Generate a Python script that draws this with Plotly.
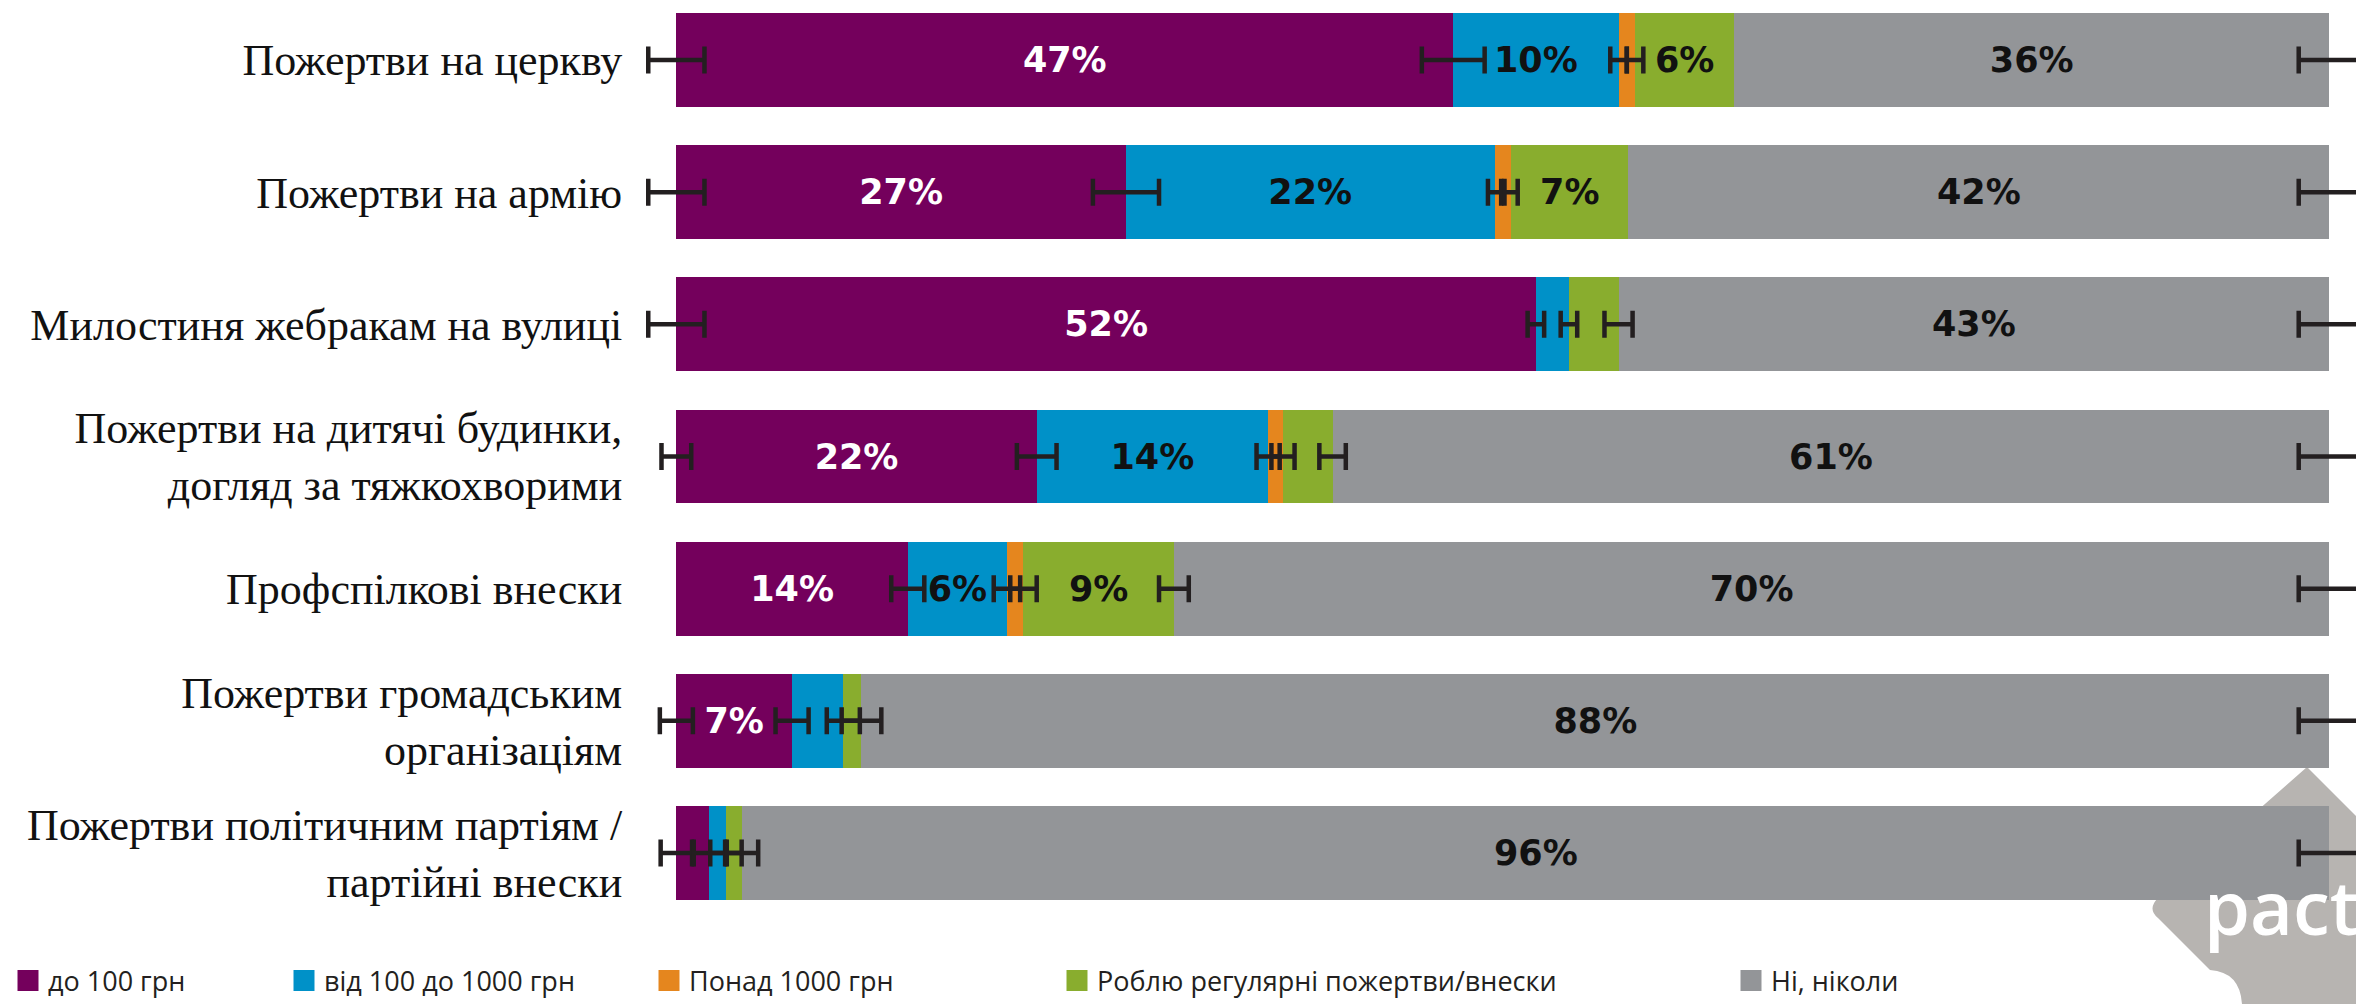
import plotly.graph_objects as go

# ---------------- data ----------------
categories = [
    "Пожертви на церкву",
    "Пожертви на армію",
    "Милостиня жебракам на вулиці",
    "Пожертви на дитячі будинки,<br>догляд за тяжкохворими",
    "Профспілкові внески",
    "Пожертви громадським<br>організаціям",
    "Пожертви політичним партіям /<br>партійні внески",
]

series_names = [
    "до 100 грн",
    "від 100 до 1000 грн",
    "Понад 1000 грн",
    "Роблю регулярні пожертви/внески",
    "Ні, ніколи",
]

up_to_100 = [47.0, 27.2, 52.0, 21.8, 14.0, 7.0, 2.0]
from_100_to_1000 = [10.0, 22.3, 2.0, 14.0, 6.0, 3.1, 1.0]
over_1000 = [1.0, 1.0, 0.0, 0.9, 1.0, 0.0, 0.0]
regular = [6.0, 7.1, 3.0, 3.0, 9.1, 1.1, 1.0]
never = [36.0, 42.4, 43.0, 60.3, 69.9, 88.8, 96.0]

labels_up_to_100 = ["47%", "27%", "52%", "22%", "14%", "7%", ""]
labels_100_1000 = ["10%", "22%", "", "14%", "6%", "", ""]
labels_over_1000 = ["", "", "", "", "", "", ""]
labels_regular = ["6%", "7%", "", "", "9%", "", ""]
labels_never = ["36%", "42%", "43%", "61%", "70%", "88%", "96%"]

# margins of error (± p.p.) at the bar start and at the end of each segment (None = not shown)
err_start = [1.7, 1.7, 1.7, 0.9, None, 1.0, 0.95]
err_up_to_100 = [1.9, 2.0, 0.5, 1.2, 1.0, 1.0, 0.95]
err_100_1000 = [0.5, 0.4, 0.5, 0.7, 0.8, 1.0, 0.95]
err_over_1000 = [0.5, 0.4, None, 0.7, 0.8, None, None]
err_regular = [None, None, 0.85, 0.8, 0.9, 1.2, 0.95]
err_never = [1.85, 1.85, 1.85, 1.85, 1.85, 1.85, 1.85]

# ---------------- styles ----------------
colors = ["#74005c", "#0091c8", "#e5861e", "#89ad2e", "#939598"]
text_colors = ["#ffffff", "#111111", "#111111", "#111111", "#111111"]
OFF = 8  # page body margin
W, H = 2364 - OFF, 1004 - OFF
ML, MR, MT, MB = 632, 0, 0, 85
PW, PH = W - ML - MR, H - MT - MB

stack = [up_to_100, from_100_to_1000, over_1000, regular, never]
labels = [labels_up_to_100, labels_100_1000, labels_over_1000, labels_regular, labels_never]
errs = [err_up_to_100, err_100_1000, err_over_1000, err_regular, err_never]

fig = go.Figure()

for vals, txt, name, col, tcol in zip(stack, labels, series_names, colors, text_colors):
    fig.add_trace(go.Bar(
        y=categories, x=vals, orientation="h", name=name,
        marker=dict(color=col, line=dict(width=0)),
        width=0.71,
        text=txt, textposition="inside", insidetextanchor="middle",
        textangle=0, constraintext="none",
        textfont=dict(family="DejaVu Sans", size=35, color=tcol, weight="bold"),
        showlegend=False, hoverinfo="skip",
    ))

# error bars at segment boundaries
ex, ey, ee = [], [], []
for i, cat in enumerate(categories):
    if err_start[i] is not None:
        ex.append(0.0); ey.append(cat); ee.append(err_start[i])
    cum = 0.0
    for vals, er in zip(stack, errs):
        cum += vals[i]
        if er[i] is not None:
            ex.append(cum); ey.append(cat); ee.append(er[i])

fig.add_trace(go.Scatter(
    x=ex, y=ey, mode="markers",
    marker=dict(size=2, color="rgba(0,0,0,0)"),
    error_x=dict(type="data", array=ee, symmetric=True, color="#231f20",
                 thickness=4.5, width=13.5),
    showlegend=False, hoverinfo="skip", cliponaxis=False,
))

# legend entries, each in its own legend so they can be placed like the original
legend_text_x = [41, 329, 694, 1102, 1776]
for k, (name, col) in enumerate(zip(series_names, colors)):
    lg = "legend" if k == 0 else f"legend{k+1}"
    fig.add_trace(go.Scatter(
        x=[None], y=[None], mode="markers", name=name, legend=lg,
        marker=dict(symbol="square", size=16, color=col, line=dict(width=5, color=col)),
        showlegend=True,
    ))

legend_common = dict(
    orientation="h", xref="container", yref="container",
    yanchor="middle", y=1 - (981 - OFF) / H, xanchor="left",
    bgcolor="rgba(0,0,0,0)", borderwidth=0,
    font=dict(family="Open Sans", size=27, color="#231f20"),
)
legend_layout = {}
for k, tx in enumerate(legend_text_x):
    key = "legend" if k == 0 else f"legend{k+1}"
    legend_layout[key] = dict(legend_common, x=(tx - OFF - 45) / W)


def px(xp):
    return (xp - OFF - ML) / PW


def py(yp):
    return (MT + PH - (yp - OFF)) / PH


logo_path = (
    f"M {px(2307)},{py(767)} L {px(2364)},{py(824)} L {px(2364)},{py(1004)} "
    f"L {px(2242)},{py(1004)} Q {px(2240)},{py(972)} {px(2210)},{py(970)} "
    f"L {px(2158)},{py(918)} Q {px(2147)},{py(909)} {px(2158)},{py(898)} Z"
)

# category centres: first at y=60, last at y=853 (page pixels)
step = (853 - 60) / 6
y_top = -(60 - OFF - MT) / step
y_bot = 6 + (MT + PH - (853 - OFF)) / step

fig.update_layout(
    width=W, height=H,
    margin=dict(l=ML, r=MR, t=MT, b=MB, pad=0),
    paper_bgcolor="white", plot_bgcolor="rgba(0,0,0,0)",
    barmode="stack",
    showlegend=True,
    xaxis=dict(range=[-2.2, 102.1], visible=False, fixedrange=True),
    yaxis=dict(
        type="category", categoryorder="array", categoryarray=categories,
        range=[y_bot, y_top], showgrid=False, zeroline=False, showline=False,
        ticks="outside", ticklen=8, tickcolor="rgba(0,0,0,0)",
        tickfont=dict(family="Liberation Serif", size=44, color="#111111"),
        fixedrange=True,
    ),
    shapes=[dict(type="path", xref="paper", yref="paper", path=logo_path,
                 fillcolor="#b7b4b1", line=dict(width=0), layer="below")],
    annotations=[dict(text="pact", xref="paper", yref="paper",
                      x=px(2202), y=py(906), xanchor="left", yanchor="middle",
                      showarrow=False,
                      font=dict(family="Open Sans", size=74, color="white", weight=600))],
    **legend_layout,
)

fig.write_html("out.html")
